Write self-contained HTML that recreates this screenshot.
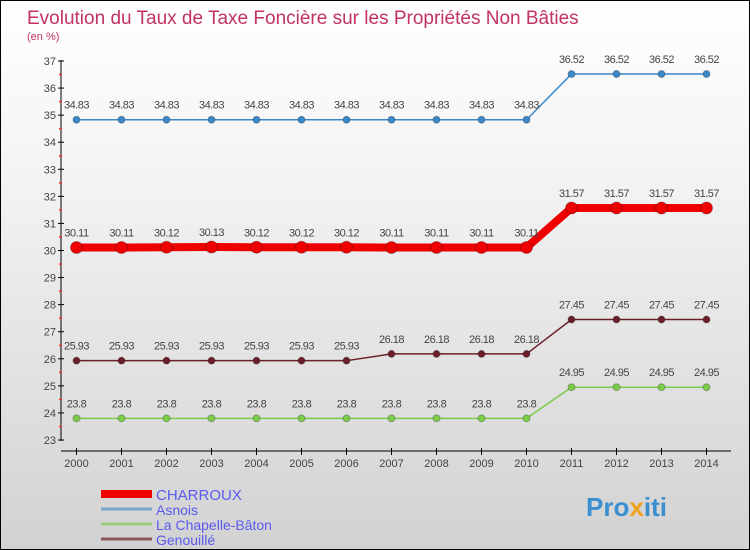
<!DOCTYPE html>
<html><head><meta charset="utf-8"><style>
body{margin:0}
#c{width:750px;height:550px;position:relative;box-sizing:border-box;border:1px solid #000;background:linear-gradient(#fff 0%,#f4f4f4 30%,#d2d2d2 100%);font-family:"Liberation Sans",sans-serif;overflow:hidden}
</style></head><body>
<div id="c">
<svg id="s" width="750" height="550" style="position:absolute;left:0;top:0">
<text x="26" y="23" font-size="19" fill="#c2335f">Evolution du Taux de Taxe Foncière sur les Propriétés Non Bâties</text>
<text x="26" y="39" font-size="11" fill="#c2335f">(en %)</text>
<g id="axes"></g><g id="series"></g><g id="legend"></g>
<text x="585" y="515" font-size="26" font-weight="bold" fill="#3a8fd0">Pro<tspan fill="#f0a020">x</tspan>iti</text>
</svg></div>
<script>
const years=[2000,2001,2002,2003,2004,2005,2006,2007,2008,2009,2010,2011,2012,2013,2014];
const yTicks=[23,24,25,26,27,28,29,30,31,32,33,34,35,36,37];
const charroux=[30.11,30.11,30.12,30.13,30.12,30.12,30.12,30.11,30.11,30.11,30.11,31.57,31.57,31.57,31.57];
const asnois=[34.83,34.83,34.83,34.83,34.83,34.83,34.83,34.83,34.83,34.83,34.83,36.52,36.52,36.52,36.52];
const chapelle=[23.8,23.8,23.8,23.8,23.8,23.8,23.8,23.8,23.8,23.8,23.8,24.95,24.95,24.95,24.95];
const genouille=[25.93,25.93,25.93,25.93,25.93,25.93,25.93,26.18,26.18,26.18,26.18,27.45,27.45,27.45,27.45];
const seriesNames=["CHARROUX","Asnois","La Chapelle-Bâton","Genouillé"];
const NS="http://www.w3.org/2000/svg";
const xs=i=>75.5+i*45;
const ys=v=>439-(v-23)*(379/14);
function mk(t,a,p){const e=document.createElementNS(NS,t);for(const k in a)e.setAttribute(k,a[k]);p.appendChild(e);return e;}
const ax=document.getElementById('axes');
let yl=mk('line',{x1:60,y1:59,x2:60,y2:440,stroke:'#000'},ax);


yTicks.forEach(v=>{const y=ys(v);
 mk('line',{x1:57,y1:y,x2:63,y2:y,stroke:'#000'},ax);
 if(v<37)mk('line',{x1:58,y1:y-13.5,x2:61,y2:y-13.5,stroke:'#e33','stroke-width':1.5},ax);
 const t=mk('text',{x:55,y:y+4,'font-size':11,'text-anchor':'end',fill:'#444'},ax);t.textContent=v;
 
 });
let xl=mk('line',{x1:60,y1:450,x2:730,y2:450,stroke:'#000'},ax);


years.forEach((yr,i)=>{const x=xs(i);
 mk('line',{x1:x,y1:447,x2:x,y2:454,stroke:'#000'},ax);
 const t=mk('text',{x:x,y:466,'font-size':11,'text-anchor':'middle',fill:'#444'},ax);t.textContent=yr;
 
 });
const sg=document.getElementById('series');
function drawSeries(data,color,w,r,name){
 const g=mk('g',{},sg);
 
 
 mk('polyline',{points:data.map((v,i)=>xs(i)+','+ys(v)).join(' '),fill:'none',stroke:color,'stroke-width':w},g);
 data.forEach((v,i)=>{const c=mk('circle',{cx:xs(i),cy:ys(v),r:r,fill:color,stroke:'rgba(0,0,0,0.25)'},g);
  
  
  const t=mk('text',{x:xs(i),y:ys(v)-11,'font-size':11,'text-anchor':'middle',fill:'#444','letter-spacing':'-0.5'},g);t.textContent=v;
  
  });
}
drawSeries(asnois,'#3a88c8',1.5,3.5,'series-asnois');
drawSeries(genouille,'#6b1f28',1.5,3.5,'series-genouille');
drawSeries(chapelle,'#7ccc4a',1.5,3.5,'series-la-chapelle-baton');
drawSeries(charroux,'#ee0000',8,6,'series-charroux');
const lg=document.getElementById('legend');
const lc=['#ee0000','#7aa7c8','#9ccc7a','#8a5a5a'],lw=[8,3,3,3];
seriesNames.forEach((n,i)=>{const y=493+i*15;
 const g=mk('g',{},lg);
 
 
 mk('line',{x1:100,y1:y,x2:151,y2:y,stroke:lc[i],'stroke-width':lw[i]},g);
 const t=mk('text',{x:155,y:y+6,'font-size':i==0?15:14,fill:'#5a5af0'},g);t.textContent=n;});
</script></body></html>
